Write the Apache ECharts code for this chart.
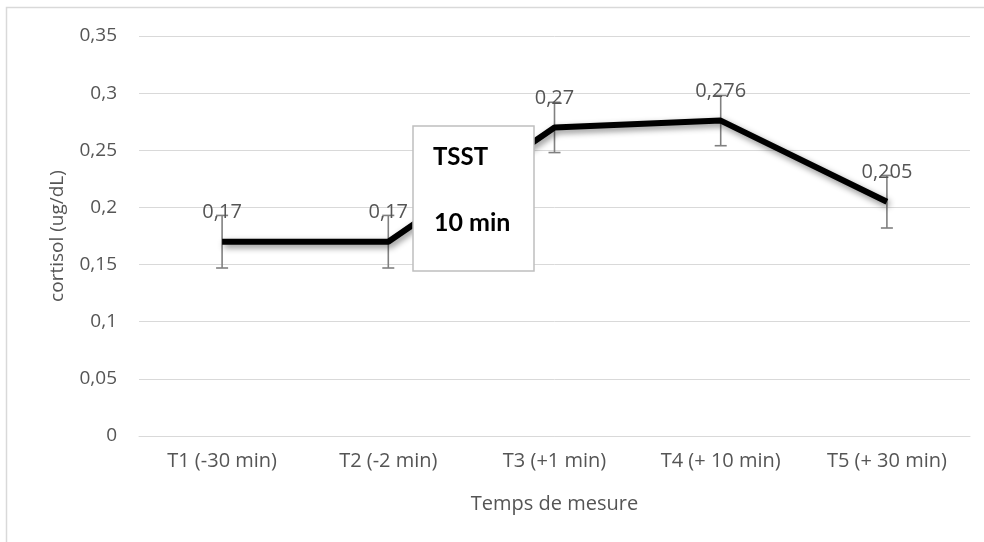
<!DOCTYPE html>
<html>
<head>
<meta charset="utf-8">
<script src="https://cdn.jsdelivr.net/npm/echarts@6/dist/echarts.min.js"></script>
<style>
html,body{margin:0;padding:0;background:#fff;}
#chart{width:984px;height:542px;}
</style>
</head>
<body>
<div id="chart"></div>
<script>
var categories = ['T1 (-30 min)', 'T2 (-2 min)', 'T3 (+1 min)', 'T4 (+ 10 min)', 'T5 (+ 30 min)'];
var cortisol = [0.17, 0.17, 0.27, 0.276, 0.205];
var errors = [0.023, 0.023, 0.022, 0.022, 0.023];
var yTicks = [0, 0.05, 0.1, 0.15, 0.2, 0.25, 0.3, 0.35];

var FONT = '"Open Sans", Lato, sans-serif';
var GRAY = '#555555';

var chart = echarts.init(document.getElementById('chart'), null, {renderer: 'canvas'});

var errData = cortisol.map(function (v, i) { return [i, v - errors[i], v + errors[i]]; });

chart.setOption({
  animation: false,
  backgroundColor: '#fff',
  grid: {left: 139, right: 14, top: 36, bottom: 106},
  xAxis: {
    type: 'category',
    data: categories,
    name: 'Temps de mesure',
    nameLocation: 'middle',
    nameGap: 58,
    nameTextStyle: {color: GRAY, fontSize: 20, fontFamily: FONT},
    axisLine: {show: true, lineStyle: {color: '#d9d9d9', width: 1}},
    axisTick: {show: false},
    axisLabel: {color: GRAY, fontSize: 20, fontFamily: FONT, margin: 15}
  },
  yAxis: {
    type: 'value',
    min: yTicks[0],
    max: yTicks[yTicks.length - 1],
    interval: 0.05,
    name: 'cortisol (ug/dL)',
    nameLocation: 'middle',
    nameGap: 72,
    nameTextStyle: {color: GRAY, fontSize: 19, fontFamily: FONT},
    axisLine: {show: false},
    axisTick: {show: false},
    splitLine: {lineStyle: {color: '#d9d9d9', width: 1}},
    axisLabel: {
      color: GRAY, fontSize: 19, fontFamily: FONT, margin: 22,
      formatter: function (v) { return String(+v.toFixed(3)).replace('.', ','); }
    }
  },
  series: [
    {
      type: 'custom',
      z: 2,
      data: errData,
      renderItem: function (params, api) {
        var x = api.value(0);
        var lo = api.coord([x, api.value(1)]);
        var hi = api.coord([x, api.value(2)]);
        var cap = 6;
        var st = {stroke: '#808080', lineWidth: 1.6};
        return {
          type: 'group',
          children: [
            {type: 'line', shape: {x1: hi[0], y1: hi[1], x2: lo[0], y2: lo[1]}, style: st},
            {type: 'line', shape: {x1: hi[0] - cap, y1: hi[1], x2: hi[0] + cap, y2: hi[1]}, style: st},
            {type: 'line', shape: {x1: lo[0] - cap, y1: lo[1], x2: lo[0] + cap, y2: lo[1]}, style: st}
          ]
        };
      }
    },
    {
      type: 'line',
      z: 3,
      data: cortisol,
      symbol: 'circle',
      symbolSize: 1,
      showSymbol: true,
      itemStyle: {color: 'rgba(0,0,0,0)', borderWidth: 0},
      lineStyle: {
        color: '#000', width: 6,
        shadowColor: 'rgba(0,0,0,0.45)', shadowBlur: 6, shadowOffsetX: 2, shadowOffsetY: 3
      },
      label: {
        show: true, position: 'top', distance: 19,
        color: GRAY, fontSize: 20, fontFamily: FONT,
        formatter: function (p) { return String(p.value).replace('.', ','); }
      }
    }
  ],
  graphic: [
    {
      type: 'rect', z: 0, silent: true,
      shape: {x: 6.5, y: 7.5, width: 990, height: 550},
      style: {fill: 'none', stroke: '#d9d9d9', lineWidth: 1.5}
    },
    {type: 'rect', z: 100, silent: true,
     shape: {x: 413, y: 126, width: 121, height: 145},
     style: {fill: '#fff', stroke: '#bfbfbf', lineWidth: 1.5}},
    {type: 'text', z: 101, silent: true, x: 433, y: 157,
     style: {text: 'TSST', fill: '#000', fontSize: 24, fontWeight: 'bold', fontFamily: 'Lato, sans-serif', textVerticalAlign: 'middle'}},
    {type: 'text', z: 101, silent: true, x: 434, y: 223,
     style: {text: '10 min', fill: '#000', fontSize: 25, fontWeight: 'bold', fontFamily: 'Lato, sans-serif', textVerticalAlign: 'middle'}}
  ]
});
</script>
</body>
</html>
